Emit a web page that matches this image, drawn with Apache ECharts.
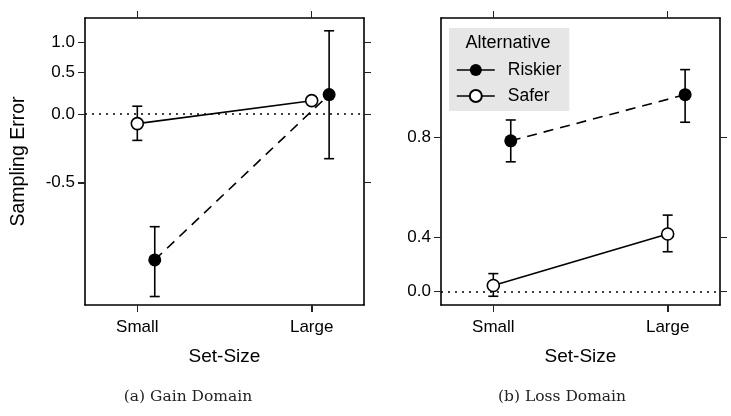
<!DOCTYPE html>
<html>
<head>
<meta charset="utf-8">
<script src="https://cdn.jsdelivr.net/npm/echarts@6/dist/echarts.min.js"></script>
<style>
html, body { margin: 0; padding: 0; background: #fff; }
#chart { width: 731px; height: 416px; }
</style>
</head>
<body>
<div id="chart"></div>
<script>
// categories on the x axis (placed at 1 and 2 on a value axis)
var categories = ['Small', 'Large'];
var catPos = [1, 2];
var xRange = [0.7, 2.3];
var dodge = 0.1; // riskier points sit a little to the right

// gain domain (a)
var gainRiskier = [-0.79, 0.21];
var gainRiskierLow = [-0.87, -0.36];
var gainRiskierHigh = [-0.69, 1.23];
var gainSafer = [-0.09, 0.14];
var gainSaferLow = [-0.23, 0.125];
var gainSaferHigh = [0.08, 0.155];
var gainTicks = [1.0, 0.5, 0.0, -0.5];
var gainRange = [-0.885, 1.517];

// loss domain (b)
var lossRiskier = [0.79, 0.89];
var lossRiskierLow = [0.73, 0.835];
var lossRiskierHigh = [0.84, 0.93];
var lossSafer = [0.05, 0.42];
var lossSaferLow = [-0.05, 0.31];
var lossSaferHigh = [0.15, 0.52];
var lossTicks = [0.8, 0.4, 0.0];
var lossRange = [-0.138, 0.99];

var FONT = 'Liberation Sans';
var TICK = 7;

// the y scales of both panels are not linear
var gainT = function(v) { return Math.log(v + 1.07); };
var gainInv = function(t) { return Math.exp(t) - 1.07; };
var lossT = function(v) { return -Math.log(1.1 - v); };
var lossInv = function(t) { return 1.1 - Math.exp(-t); };

function fmt(v) {
	var r = Math.round(v * 10) / 10;
	if (Math.abs(r) < 1e-9) r = 0;
	return r.toFixed(1);
}

function pts(vals, off, tf) {
	return vals.map(function(v, i) { return [catPos[i] + off, tf(v)]; });
}

function bars(lo, hi, off, tf) {
	return lo.map(function(v, i) { return [catPos[i] + off, tf(v), tf(hi[i])]; });
}

function errorBars(grid, data) {
	return {
		type: 'custom',
		xAxisIndex: grid * 2,
		yAxisIndex: grid * 2,
		z: 1,
		silent: true,
		encode: { x: 0, y: [1, 2] },
		data: data,
		renderItem: function(params, api) {
			var x = api.value(0);
			var lo = api.coord([x, api.value(1)]);
			var hi = api.coord([x, api.value(2)]);
			var w = 5;
			var st = { stroke: '#000', lineWidth: 1.6 };
			return {
				type: 'group',
				children: [
					{ type: 'line', shape: { x1: lo[0], y1: lo[1], x2: hi[0], y2: hi[1] }, style: st },
					{ type: 'line', shape: { x1: lo[0] - w, y1: lo[1], x2: lo[0] + w, y2: lo[1] }, style: st },
					{ type: 'line', shape: { x1: hi[0] - w, y1: hi[1], x2: hi[0] + w, y2: hi[1] }, style: st }
				]
			};
		}
	};
}

function riskierLine(grid, data) {
	return {
		type: 'line',
		name: 'Riskier',
		xAxisIndex: grid * 2,
		yAxisIndex: grid * 2,
		z: 3,
		data: data,
		symbol: 'circle',
		symbolSize: 13,
		itemStyle: { color: '#000' },
		lineStyle: { color: '#000', width: 1.6, type: [10, 7] }
	};
}

function saferLine(grid, data, zeroT) {
	return {
		type: 'line',
		name: 'Safer',
		xAxisIndex: grid * 2,
		yAxisIndex: grid * 2,
		z: 3,
		data: data,
		symbol: 'circle',
		symbolSize: 12,
		itemStyle: { color: '#fff', borderColor: '#000', borderWidth: 1.6 },
		lineStyle: { color: '#000', width: 1.6 },
		markLine: {
			silent: true,
			symbol: 'none',
			label: { show: false },
			lineStyle: { color: '#000', type: [2, 5], width: 1.6 },
			data: [{ yAxis: zeroT }]
		}
	};
}

function axisLine() {
	return { show: true, onZero: false, lineStyle: { color: '#000', width: 1.6 } };
}

function ticks(tv) {
	return { show: true, customValues: tv.slice(), length: TICK, lineStyle: { color: '#222', width: 1 } };
}

function xAxes(grid) {
	return [{
		gridIndex: grid,
		type: 'value',
		min: xRange[0],
		max: xRange[1],
		position: 'bottom',
		axisLine: axisLine(),
		splitLine: { show: false },
		axisTick: ticks(catPos),
		axisLabel: {
			customValues: catPos.slice(),
			formatter: function(v) { return categories[Math.round(v) - 1]; },
			fontSize: 17, color: '#000', fontFamily: FONT, margin: 14
		},
		name: 'Set-Size',
		nameLocation: 'middle',
		nameGap: 42,
		nameTextStyle: { fontSize: 19, color: '#000', fontFamily: FONT }
	}, {
		gridIndex: grid,
		type: 'value',
		min: xRange[0],
		max: xRange[1],
		position: 'top',
		axisLine: axisLine(),
		splitLine: { show: false },
		axisTick: ticks(catPos),
		axisLabel: { show: false }
	}];
}

function yAxes(grid, tickVals, range, tf, inv, title) {
	var tv = tickVals.map(tf);
	var left = {
		gridIndex: grid,
		type: 'value',
		min: tf(range[0]),
		max: tf(range[1]),
		position: 'left',
		axisLine: axisLine(),
		splitLine: { show: false },
		axisTick: ticks(tv),
		axisLabel: {
			customValues: tv.slice(),
			formatter: function(v) { return fmt(inv(v)); },
			fontSize: 17, color: '#000', fontFamily: FONT, margin: 10
		}
	};
	if (title) {
		left.name = title;
		left.nameLocation = 'middle';
		left.nameGap = 56;
		left.nameTextStyle = { fontSize: 19.5, color: '#000', fontFamily: FONT };
	}
	return [left, {
		gridIndex: grid,
		type: 'value',
		min: tf(range[0]),
		max: tf(range[1]),
		position: 'right',
		axisLine: axisLine(),
		splitLine: { show: false },
		axisTick: ticks(tv),
		axisLabel: { show: false }
	}];
}

function panel(grid, tf, rk, rkLo, rkHi, sf, sfLo, sfHi) {
	return [
		errorBars(grid, bars(rkLo, rkHi, dodge, tf)),
		errorBars(grid, bars(sfLo, sfHi, 0, tf)),
		saferLine(grid, pts(sf, 0, tf), tf(0)),
		riskierLine(grid, pts(rk, dodge, tf))
	];
}

var texts = [
	{ type: 'text', z: 100, x: 508, y: 43, style: { text: 'Alternative', fontSize: 18, fontFamily: FONT, fill: '#000', align: 'center', verticalAlign: 'middle' } },
	{ type: 'text', x: 188, y: 397, style: { text: '(a) Gain Domain', fontSize: 15.5, fontFamily: 'DejaVu Serif', fill: '#222', align: 'center', verticalAlign: 'middle' } },
	{ type: 'text', x: 562, y: 397, style: { text: '(b) Loss Domain', fontSize: 15.5, fontFamily: 'DejaVu Serif', fill: '#222', align: 'center', verticalAlign: 'middle' } }
];

var chart = echarts.init(document.getElementById('chart'));

chart.setOption({
	animation: false,
	backgroundColor: '#fff',
	grid: [
		{ left: 85, right: 367, top: 18, bottom: 111 },
		{ left: 441, right: 11, top: 18, bottom: 111 }
	],
	xAxis: xAxes(0).concat(xAxes(1)),
	yAxis: yAxes(0, gainTicks, gainRange, gainT, gainInv, 'Sampling Error')
		.concat(yAxes(1, lossTicks, lossRange, lossT, lossInv, null)),
	legend: {
		data: ['Riskier', 'Safer'],
		orient: 'vertical',
		left: 449,
		top: 28,
		backgroundColor: '#e6e6e6',
		padding: [33, 8, 6, 7],
		itemWidth: 38,
		itemHeight: 15,
		itemGap: 8,
		selectedMode: false,
		lineStyle: { type: 'solid', width: 1.6 },
		textStyle: { fontSize: 17.5, color: '#000', fontFamily: FONT, padding: [0, 0, 0, 8], lineHeight: 15 }
	},
	graphic: { elements: texts },
	series: panel(0, gainT, gainRiskier, gainRiskierLow, gainRiskierHigh, gainSafer, gainSaferLow, gainSaferHigh)
		.concat(panel(1, lossT, lossRiskier, lossRiskierLow, lossRiskierHigh, lossSafer, lossSaferLow, lossSaferHigh))
});

// ticks on the labelled sides (left and bottom), placed through the axes' scales
var tickLines = [];
function addTicks(grid, tickVals, tf, range) {
	var xi = grid * 2, yi = grid * 2;
	var xLeft = chart.convertToPixel({ xAxisIndex: xi }, xRange[0]);
	var yBottom = chart.convertToPixel({ yAxisIndex: yi }, tf(range[0]));
	if (!isFinite(xLeft) || !isFinite(yBottom)) return;
	tickVals.forEach(function(v) {
		var y = Math.round(chart.convertToPixel({ yAxisIndex: yi }, tf(v))) + 0.5;
		tickLines.push({ type: 'line', z: 50, shape: { x1: xLeft - TICK, y1: y, x2: xLeft, y2: y }, style: { stroke: '#222', lineWidth: 1 } });
	});
	catPos.forEach(function(c) {
		var x = Math.round(chart.convertToPixel({ xAxisIndex: xi }, c)) + 0.5;
		tickLines.push({ type: 'line', z: 50, shape: { x1: x, y1: yBottom, x2: x, y2: yBottom + TICK }, style: { stroke: '#222', lineWidth: 1 } });
	});
}
addTicks(0, gainTicks, gainT, gainRange);
addTicks(1, lossTicks, lossT, lossRange);

chart.setOption({ graphic: { elements: texts.concat(tickLines) } });
</script>
</body>
</html>
